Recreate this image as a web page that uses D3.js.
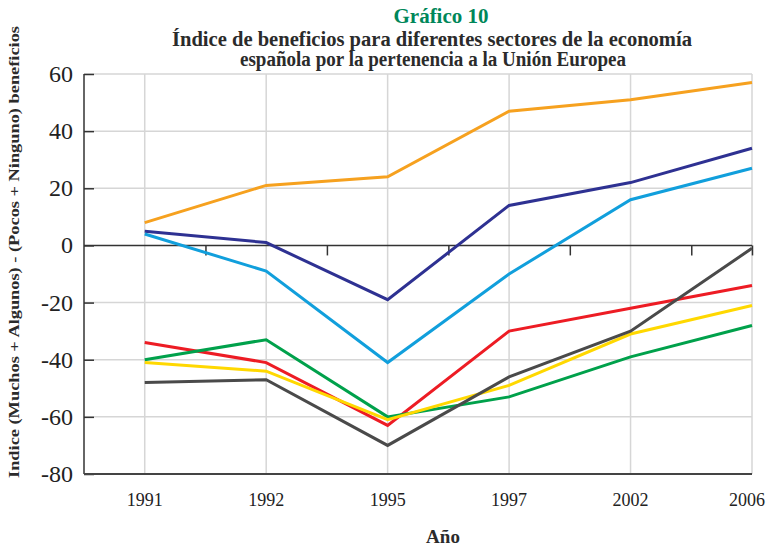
<!DOCTYPE html>
<html>
<head>
<meta charset="utf-8">
<script src="https://cdn.jsdelivr.net/npm/d3@7"></script>
<style>
  body { margin: 0; background: #fff; }
  text { font-family: "Liberation Serif", "DejaVu Serif", serif; }
</style>
</head>
<body>
<div id="chart"></div>
<script>
// data
let years = ["1991", "1992", "1995", "1997", "2002", "2006"];
let yTicks = [60, 40, 20, 0, -20, -40, -60, -80];

let serieOrange = [8, 21, 24, 47, 51, 57];
let serieNavy = [5, 1, -19, 14, 22, 34];
let serieBlue = [4, -9, -41, -10, 16, 27];
let serieRed = [-34, -41, -63, -30, -22, -14];
let serieGreen = [-40, -33, -60, -53, -39, -28];
let serieYellow = [-41, -44, -61, -49, -31, -21];
let serieGray = [-48, -47, -70, -46, -30, -1];

let series = [
  {values: serieOrange, color: "#f6a11f"},
  {values: serieNavy, color: "#2e3192"},
  {values: serieBlue, color: "#119fdc"},
  {values: serieRed, color: "#ed1c24"},
  {values: serieGreen, color: "#00a14b"},
  {values: serieYellow, color: "#ffd800"},
  {values: serieGray, color: "#4a4a4a"}
];

let width = 767, height = 550;
let margin = {top: 74, left: 84, right: 15, bottom: 76};
let serif = "'Liberation Serif', 'DejaVu Serif', serif";

let svg = d3.select("#chart").append("svg")
  .attr("width", width)
  .attr("height", height)
  .style("font-family", serif);

let yScale = d3.scaleLinear().domain([-80, 60]).range([height - margin.bottom, margin.top]);
// index scale: axis starts half a step before the first year, last year sits on the right edge
let step = (width - margin.right - margin.left) / 5.5;
let iScale = d3.scaleLinear().domain([-0.5, 5]).range([margin.left, margin.left + step * 5.5]);
let xRight = iScale(5);

// grid
let grid = svg.append("g").attr("class", "grid");
grid.selectAll(".hgrid").data(yTicks.filter(d => d != 0 && d != -80)).enter()
  .append("line")
  .attr("x1", margin.left).attr("x2", xRight)
  .attr("y1", d => yScale(d)).attr("y2", d => yScale(d))
  .attr("stroke", "#d6d6d6").attr("stroke-width", 1.5);
grid.selectAll(".vgrid").data(years).enter()
  .append("line")
  .attr("x1", (d, i) => iScale(i)).attr("x2", (d, i) => iScale(i))
  .attr("y1", yScale(60)).attr("y2", yScale(-80))
  .attr("stroke", "#d6d6d6").attr("stroke-width", 1.5);

// y axis, ticks pointing inside
let yAxis = d3.axisRight(yScale).tickValues(yTicks).tickSize(10).tickFormat("");
let yg = svg.append("g")
  .attr("transform", "translate(" + margin.left + ",0)")
  .call(yAxis);
yg.select(".domain").attr("stroke", "#333").attr("stroke-width", 1.5)
  .attr("d", "M0," + yScale(60) + "V" + yScale(-80));
yg.selectAll(".tick line").attr("stroke", "#333").attr("stroke-width", 1.5);

svg.append("g").selectAll("text").data(yTicks).enter()
  .append("text")
  .attr("x", 73)
  .attr("y", d => yScale(d) + 8)
  .attr("text-anchor", "end")
  .attr("font-family", serif)
  .attr("font-size", 24)
  .attr("fill", "#222")
  .text(d => d);

// bottom line at -80
svg.append("line")
  .attr("x1", margin.left).attr("x2", xRight)
  .attr("y1", yScale(-80)).attr("y2", yScale(-80))
  .attr("stroke", "#444").attr("stroke-width", 2);

// zero line with the category ticks
let bounds = d3.range(0, 6).map(i => i - 0.5).concat([5]);
let xAxis = d3.axisBottom(iScale).tickValues(bounds.slice(1)).tickSize(10).tickFormat("");
let xg = svg.append("g")
  .attr("transform", "translate(0," + yScale(0) + ")")
  .call(xAxis);
xg.select(".domain").attr("stroke", "#333").attr("stroke-width", 1.5)
  .attr("d", "M" + margin.left + ",0H" + xRight);
xg.selectAll(".tick line").attr("stroke", "#333").attr("stroke-width", 1.5);

// year labels (the last one is pulled in so it stays on the page)
svg.append("g").selectAll("text").data(years).enter()
  .append("text")
  .attr("x", (d, i) => i == years.length - 1 ? width - 2 : iScale(i))
  .attr("y", 506)
  .attr("text-anchor", (d, i) => i == years.length - 1 ? "end" : "middle")
  .attr("font-family", serif)
  .attr("font-size", 18)
  .attr("fill", "#222")
  .text(d => d);

// series lines
let line = d3.line()
  .x((d, i) => iScale(i))
  .y(d => yScale(d));

svg.append("g").selectAll("path").data(series).enter()
  .append("path")
  .attr("d", d => line(d.values))
  .attr("fill", "none")
  .attr("stroke", d => d.color)
  .attr("stroke-width", 3)
  .attr("stroke-linejoin", "miter");

// titles
svg.append("text")
  .attr("x", 441).attr("y", 23)
  .attr("text-anchor", "middle")
  .attr("font-size", 20).attr("font-weight", "bold")
  .attr("fill", "#00875a")
  .attr("textLength", 95).attr("lengthAdjust", "spacingAndGlyphs")
  .text("Gráfico 10");
svg.append("text")
  .attr("x", 432).attr("y", 46)
  .attr("text-anchor", "middle")
  .attr("font-size", 20).attr("font-weight", "bold")
  .attr("fill", "#2b2b2b")
  .attr("textLength", 520).attr("lengthAdjust", "spacingAndGlyphs")
  .text("Índice de beneficios para diferentes sectores de la economía");
svg.append("text")
  .attr("x", 433).attr("y", 66)
  .attr("text-anchor", "middle")
  .attr("font-size", 20).attr("font-weight", "bold")
  .attr("fill", "#2b2b2b")
  .attr("textLength", 386).attr("lengthAdjust", "spacingAndGlyphs")
  .text("española por la pertenencia a la Unión Europea");

// axis titles
svg.append("text")
  .attr("transform", "translate(19,252) rotate(-90)")
  .attr("text-anchor", "middle")
  .attr("font-size", 15).attr("font-weight", "bold")
  .attr("fill", "#2b2b2b")
  .attr("textLength", 452).attr("lengthAdjust", "spacingAndGlyphs")
  .text("Indice (Muchos + Algunos) - (Pocos + Ninguno) beneficios");
svg.append("text")
  .attr("x", 443).attr("y", 543)
  .attr("text-anchor", "middle")
  .attr("font-size", 19).attr("font-weight", "bold")
  .attr("fill", "#2b2b2b")
  .text("Año");
</script>
</body>
</html>
